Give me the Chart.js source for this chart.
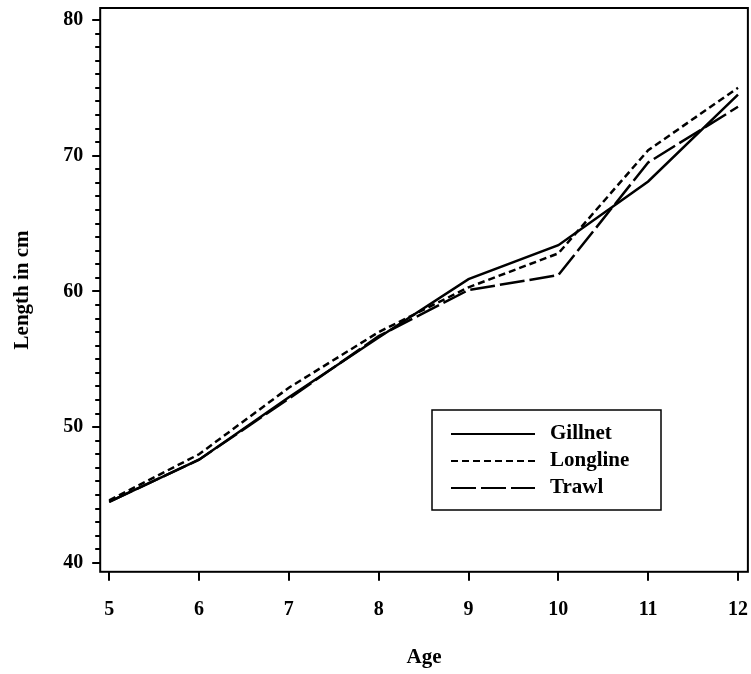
<!DOCTYPE html>
<html>
<head>
<meta charset="utf-8">
<script src="https://cdn.jsdelivr.net/npm/chart.js@4"></script>
<style>
  html, body { margin: 0; padding: 0; background: #fff; }
  #wrap { width: 751px; height: 674px; }
</style>
</head>
<body>
<div id="wrap"><canvas id="chart" width="751" height="674"></canvas></div>
<script>
const ages = [5, 6, 7, 8, 9, 10, 11, 12];
const gillnet  = [44.5, 47.6, 52.2, 56.6, 60.9, 63.4, 68.1, 74.5];
const longline = [44.6, 48.0, 52.9, 57.0, 60.3, 62.8, 70.4, 75.0];
const trawl    = [44.5, 47.6, 52.1, 56.7, 60.1, 61.2, 69.5, 73.6];
const yMajor = [40, 50, 60, 70, 80];

const FONT = '"Liberation Serif", "DejaVu Serif", serif';

function pts(vals) {
  return ages.map((a, i) => ({ x: a, y: vals[i] }));
}

// box round the plot, y tick marks (long on majors), legend inside the plot
const frame = {
  id: 'frame',
  afterDraw(chart) {
    const ctx = chart.ctx;
    const a = chart.chartArea;
    ctx.save();
    ctx.strokeStyle = '#000';
    ctx.lineWidth = 2;
    ctx.strokeRect(a.left, a.top, a.right - a.left, a.bottom - a.top);

    const y = chart.scales.y;
    y.ticks.forEach(t => {
      const py = Math.round(y.getPixelForValue(t.value));
      const len = yMajor.includes(t.value) ? 8 : 5;
      ctx.beginPath();
      ctx.moveTo(a.left - len, py);
      ctx.lineTo(a.left, py);
      ctx.stroke();
    });

    // legend
    const bx = 432, by = 410, bw = 229, bh = 100;
    ctx.lineWidth = 1.5;
    ctx.strokeRect(bx, by, bw, bh);
    ctx.font = 'bold 21px ' + FONT;
    ctx.fillStyle = '#000';
    ctx.textBaseline = 'middle';
    chart.data.datasets.forEach((ds, i) => {
      const ly = by + 24 + i * 27;
      ctx.setLineDash(ds.borderDash || []);
      ctx.lineWidth = 2;
      ctx.beginPath();
      ctx.moveTo(bx + 19, ly);
      ctx.lineTo(bx + 103, ly);
      ctx.stroke();
      ctx.setLineDash([]);
      ctx.fillText(ds.label, bx + 118, ly);
    });
    ctx.restore();
  }
};

new Chart(document.getElementById('chart'), {
  type: 'line',
  data: {
    datasets: [
      { label: 'Gillnet',  data: pts(gillnet),  borderColor: '#000', borderWidth: 2.5, borderDash: [] },
      { label: 'Longline', data: pts(longline), borderColor: '#000', borderWidth: 2.5, borderDash: [7, 4] },
      { label: 'Trawl',    data: pts(trawl),    borderColor: '#000', borderWidth: 2.5, borderDash: [25, 5] }
    ]
  },
  options: {
    responsive: false,
    animation: false,
    layout: { padding: { left: 10, right: 0, top: 8, bottom: 4 } },
    elements: { point: { radius: 0 }, line: { tension: 0 } },
    plugins: {
      legend: { display: false },
      tooltip: { enabled: false }
    },
    scales: {
      x: {
        type: 'linear',
        min: 4.9,
        max: 12.11,
        border: { display: false },
        grid: { drawOnChartArea: false, drawTicks: true, tickLength: 9, color: '#000', lineWidth: 2 },
        ticks: {
          stepSize: 1,
          includeBounds: false,
          padding: 3,
          color: '#000',
          font: { family: FONT, size: 20, weight: 'bold', lineHeight: 2.6 }
        },
        title: {
          display: true,
          text: 'Age',
          color: '#000',
          padding: { top: 6, bottom: 0 },
          font: { family: FONT, size: 21, weight: 'bold' }
        }
      },
      y: {
        type: 'linear',
        min: 39.34,
        max: 80.88,
        border: { display: false },
        // invisible tick room; the visible marks are drawn by the frame plugin
        grid: { drawOnChartArea: false, drawTicks: true, tickLength: 16, color: 'rgba(0,0,0,0)' },
        ticks: {
          stepSize: 1,
          includeBounds: false,
          autoSkip: false,
          padding: 1,
          color: '#000',
          font: { family: FONT, size: 20, weight: 'bold', lineHeight: 0.3 },
          callback: v => (v % 10 === 0 ? v : '')
        },
        title: {
          display: true,
          text: 'Length in cm',
          color: '#000',
          padding: { top: 0, bottom: 27 },
          font: { family: FONT, size: 21, weight: 'bold' }
        }
      }
    }
  },
  plugins: [frame]
});
</script>
</body>
</html>
